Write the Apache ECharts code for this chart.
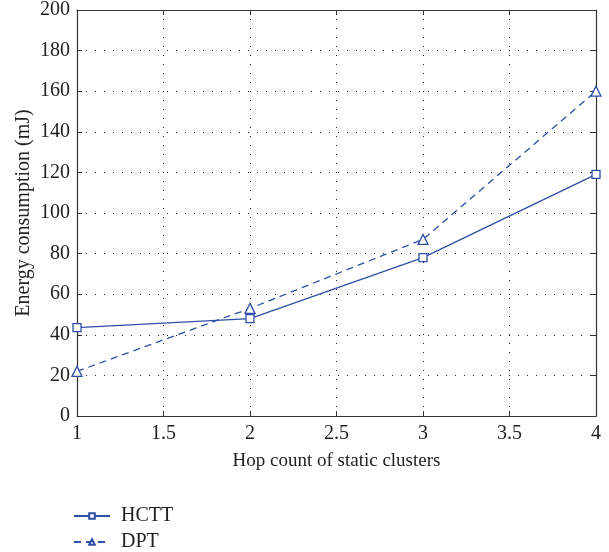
<!DOCTYPE html>
<html>
<head>
<meta charset="utf-8">
<script src="https://cdn.jsdelivr.net/npm/echarts@6/dist/echarts.min.js"></script>
<style>
  html, body { margin: 0; padding: 0; background: #fff; }
  #chart { width: 609px; height: 552px; }
</style>
</head>
<body>
<div id="chart"></div>
<script>
// 数据
const hops = [1, 2, 3, 4]
const hcttValues = [43.5, 48, 78, 119]
const dptValues = [22, 53, 87, 160]
const seriesNames = ['HCTT', 'DPT']

const lineColor = '#2f4fa6'
const font = 'Liberation Serif'

var dom = document.getElementById('chart');
var myChart = echarts.init(dom);

function pairs(xs, ys) {
    return xs.map(function (x, i) { return [x, ys[i]]; });
}

// 上/右边框刻度
function boxAxis(extra) {
    return Object.assign({
        axisLine: { show: true, onZero: false, lineStyle: { color: '#333', width: 1.2 } },
        axisTick: { show: true, inside: true, length: 5, lineStyle: { color: '#333' } },
        splitLine: { show: false },
        axisLabel: { show: false }
    }, extra);
}

var option = {
    animation: false,
    grid: { left: 77, right: 13, top: 10, bottom: 136 },
    legend: {
        orient: 'vertical',
        left: 73,
        top: 506,
        height: 80,
        padding: 0,
        itemWidth: 36,
        itemHeight: 7,
        itemGap: 6,
        textStyle: { fontFamily: font, fontSize: 20, lineHeight: 20, color: '#222', padding: [0, 0, 0, 6] },
        data: seriesNames
    },
    xAxis: [
        {
            type: 'value', min: 1, max: 4, interval: 0.5,
            name: 'Hop count of static clusters',
            nameLocation: 'middle', nameGap: 36,
            nameTextStyle: { fontFamily: font, fontSize: 19, color: '#222', verticalAlign: 'top' },
            axisLine: { onZero: false, lineStyle: { color: '#333', width: 1.2 } },
            axisTick: { inside: true, length: 5, lineStyle: { color: '#333' } },
            axisLabel: { fontFamily: font, fontSize: 20, color: '#222', margin: 8 },
            splitLine: { show: true, lineStyle: { color: '#222', type: [1, 8], width: 1 } }
        },
        boxAxis({ type: 'value', min: 1, max: 4, interval: 0.5, position: 'top' })
    ],
    yAxis: [
        {
            type: 'value', min: 0, max: 200, interval: 20,
            name: 'Energy consumption (mJ)',
            nameLocation: 'middle', nameGap: 43,
            nameMoveOverlap: false,
            nameTextStyle: { fontFamily: font, fontSize: 20, color: '#222' },
            axisLine: { show: true, lineStyle: { color: '#333', width: 1.2 } },
            axisTick: { show: true, inside: true, length: 5, lineStyle: { color: '#333' } },
            axisLabel: { fontFamily: font, fontSize: 20, color: '#222', margin: 7 },
            splitLine: { show: true, lineStyle: { color: '#222', type: [1, 8], width: 1 } }
        },
        boxAxis({ type: 'value', min: 0, max: 200, interval: 20, position: 'right' })
    ],
    series: [
        {
            name: seriesNames[0],
            type: 'line',
            data: pairs(hops, hcttValues),
            symbol: 'rect',
            symbolSize: 8,
            lineStyle: { color: lineColor, width: 1.3, type: 'solid' },
            itemStyle: { color: '#fff', borderColor: lineColor, borderWidth: 1.3 }
        },
        {
            name: seriesNames[1],
            type: 'line',
            data: pairs(hops, dptValues),
            symbol: 'triangle',
            symbolSize: 10,
            lineStyle: { color: lineColor, width: 1.3, type: [7, 5] },
            itemStyle: { color: '#fff', borderColor: lineColor, borderWidth: 1.3 }
        }
    ]
};

myChart.setOption(option, true);
</script>
</body>
</html>
